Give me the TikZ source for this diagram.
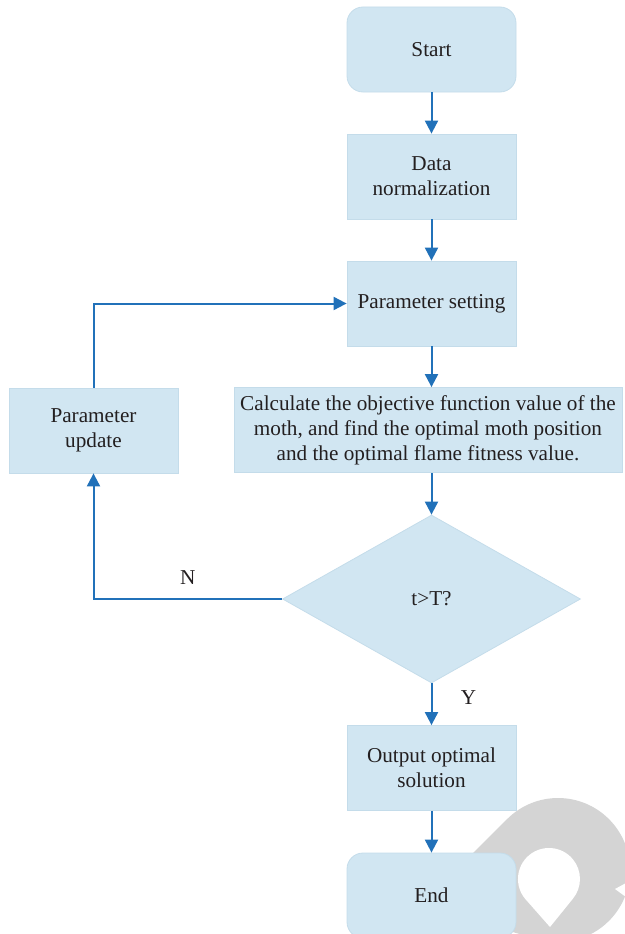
\documentclass[tikz,border=0pt]{standalone}
\usepackage{fontspec}
\setmainfont{Liberation Serif}
\usetikzlibrary{shapes.geometric,arrows.meta}
\definecolor{boxfill}{HTML}{D1E6F2}
\definecolor{boxline}{HTML}{C4DCEA}
\definecolor{flow}{HTML}{2171B9}
\definecolor{ink}{HTML}{231F20}
\definecolor{markgray}{HTML}{D4D4D4}
\begin{document}
\begin{tikzpicture}[x=1pt,y=-1pt,
  every node/.style={font=\fontsize{21.2}{25}\selectfont, text=ink},
  block/.style={draw=boxline, fill=boxfill, line width=0.8pt,
    minimum width=169pt, minimum height=85pt, inner sep=0pt, align=center},
  term/.style={block, rounded corners=16pt},
  decision/.style={diamond, draw=boxline, fill=boxfill, line width=0.8pt,
    minimum width=298pt, minimum height=168pt, inner sep=0pt},
  flowline/.style={draw=flow, line width=2pt},
  flowarrow/.style={flowline, -{Triangle[length=13pt,width=13pt]}},
]
\useasboundingbox (0,0) rectangle (624,934);

% grey pin-shaped emblem in the lower right corner
\fill[markgray] (420,906) -- (507.2,819.0)
  arc[start angle=225.1, end angle=465.7, radius=72] -- cycle;
\fill[white] (615,889) -- (626,883) -- (626,897) -- cycle;
\fill[white] (550,927) -- (525.3,899.0)
  arc[start angle=139.8, end angle=400.2, radius=31] -- cycle;

% process steps
\node[term]  (start) at (431.5,49.5)  {Start};
\node[block] (norm)  at (431.5,176.5) {Data\\normalization};
\node[block] (param) at (431.5,303.5) {Parameter setting};
\node[block, minimum width=388pt] (calc) at (428,430)
  {Calculate the objective function value of the\\
   moth, and find the optimal moth position\\
   and the optimal flame fitness value.};
\node[decision] (test) at (431.5,599) {t>T?};
\node[block] (out)   at (431.5,768)   {Output optimal\\solution};
\node[term]  (end)   at (431.5,895.5) {End};
\node[block] (upd)   at (93.5,430.5)  {Parameter\\update};

% connectors
\draw[flowarrow] (start) -- (norm);
\draw[flowarrow] (norm) -- (param);
\draw[flowarrow] (param) -- (param |- calc.north);
\draw[flowarrow] (param |- calc.south) -- (test.north);
\draw[flowarrow] (test.south) -- (out) node[pos=0.33, xshift=37pt] {Y};
\draw[flowarrow] (out) -- (end);
\draw[flowarrow] (test.west) -| (upd.south) node[pos=0.25, yshift=21pt] {N};
\draw[flowarrow] (upd.north) |- (param.west);
\end{tikzpicture}
\end{document}
